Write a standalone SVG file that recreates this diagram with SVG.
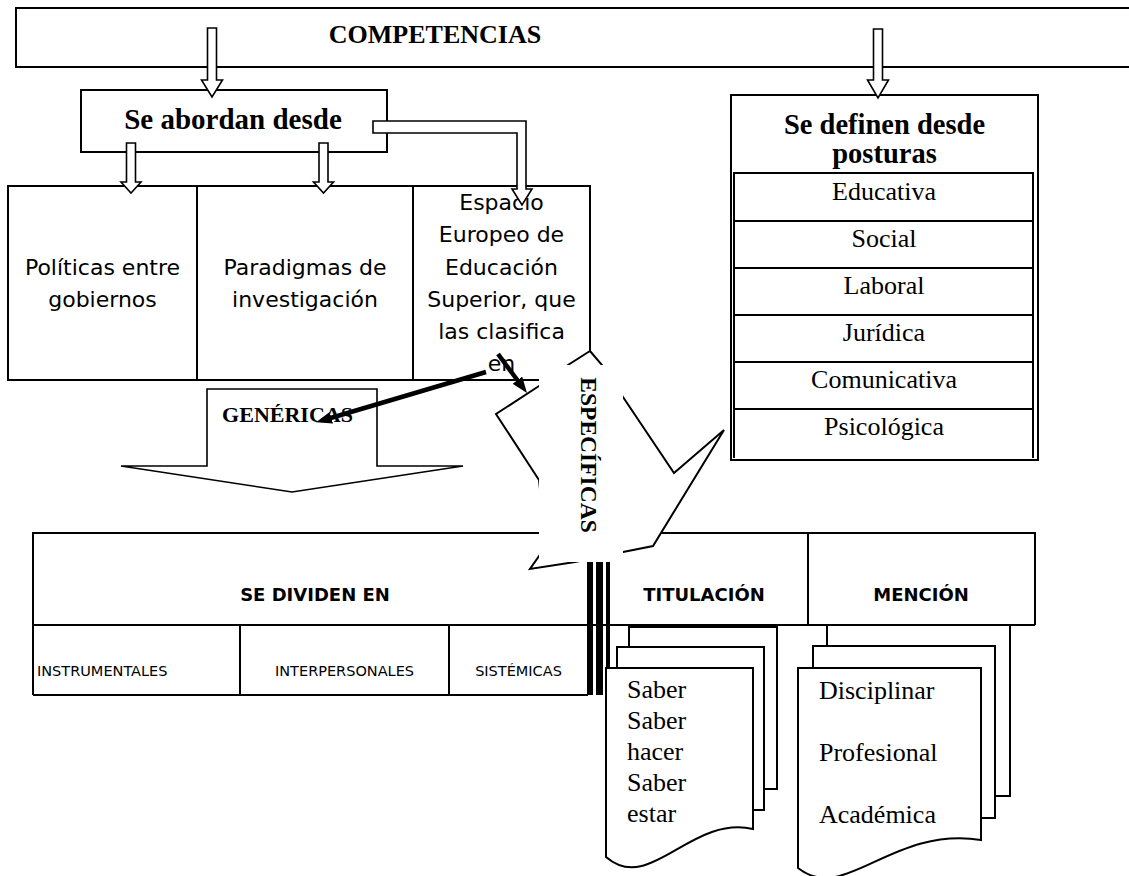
<svg xmlns="http://www.w3.org/2000/svg" width="1129" height="876" viewBox="0 0 1129 876">
<defs>
<style>
.box{fill:#fff;stroke:#000;stroke-width:2}
.ln{fill:none;stroke:#000;stroke-width:2}
.ha{fill:#fff;stroke:#000;stroke-width:1.6;stroke-linejoin:miter}
.tb{font-family:"Liberation Serif","Times New Roman",serif;font-weight:bold;fill:#000}
.t{font-family:"Liberation Serif","Times New Roman",serif;fill:#000}
.g{font-family:"DejaVu Sans",sans-serif;fill:#000}
.gb{font-family:"DejaVu Sans",sans-serif;font-weight:bold;fill:#000}
.thick{fill:none;stroke:#000;stroke-width:4.5}
.bar{fill:#000}
</style>
<marker id="ah" markerUnits="userSpaceOnUse" markerWidth="16" markerHeight="12" viewBox="0 0 16 12" refX="6" refY="6" orient="auto"><path d="M0,0 L16,6 L0,12 Z" fill="#000"/></marker>
</defs>
<rect width="1129" height="876" fill="#fff"/>

<g id="competencias">
<rect class="box" x="16" y="8" width="1130" height="59"/>
<text class="tb" x="435" y="43" font-size="26" text-anchor="middle">COMPETENCIAS</text>
</g>

<g id="se-abordan">
<rect class="box" x="81" y="90" width="306" height="62"/>
<text class="tb" x="233" y="129" font-size="29" text-anchor="middle">Se abordan desde</text>
</g>

<g id="se-definen">
<rect class="box" x="731" y="95" width="307" height="365"/>
<text class="tb" x="884.5" y="134" font-size="28.5" text-anchor="middle">Se definen desde</text>
<text class="tb" x="884.5" y="163" font-size="28.5" text-anchor="middle">posturas</text>
<path class="ln" d="M734,458 V173 H1033 V458 M734,221 H1033 M734,268 H1033 M734,315 H1033 M734,362 H1033 M734,409 H1033"/>
<g class="t" font-size="26" text-anchor="middle">
<text x="884" y="200">Educativa</text>
<text x="884" y="247">Social</text>
<text x="884" y="294">Laboral</text>
<text x="884" y="341">Jurídica</text>
<text x="884" y="388">Comunicativa</text>
<text x="884" y="435">Psicológica</text>
</g>
</g>

<g id="abordajes">
<rect class="box" x="8" y="186" width="582" height="194"/>
<path class="ln" d="M197,186 V380 M413,186 V380"/>
<g class="g" font-size="22" text-anchor="middle">
<text x="102.5" y="275">Políticas entre</text>
<text x="102.5" y="307">gobiernos</text>
<text x="305" y="275">Paradigmas de</text>
<text x="305" y="307">investigación</text>
<text x="501.5" y="210">Espacio</text>
<text x="501.5" y="242">Europeo de</text>
<text x="501.5" y="274.5">Educación</text>
<text x="501.5" y="306.5">Superior, que</text>
<text x="501.5" y="339">las clasifica</text>
<text x="501.5" y="371">en</text>
</g>
</g>

<g id="genericas">
<polygon class="ha" points="207,389 377,389 377,466 463,466 292,492 121,466 207,466"/>
<text class="tb" x="287.5" y="422" font-size="22" text-anchor="middle">GENÉRICAS</text>
</g>

<g id="tabla">
<path class="ln" d="M33,695 V533 H1035 V625 M33,625 H1035 M33,695 H588 M240,625 V695 M449,625 V695 M808,533 V625"/>
<rect class="bar" x="587" y="533" width="6" height="162"/>
<rect class="bar" x="596" y="533" width="7" height="162"/>
<rect class="bar" x="606" y="533" width="4" height="162"/>
<text class="gb" x="315" y="601" font-size="18" text-anchor="middle">SE DIVIDEN EN</text>
<text class="gb" x="704" y="601" font-size="18" text-anchor="middle">TITULACIÓN</text>
<text class="gb" x="921" y="601" font-size="18" text-anchor="middle">MENCIÓN</text>
<g class="g" font-size="14.5">
<text x="37" y="676">INSTRUMENTALES</text>
<text x="344.5" y="676" text-anchor="middle">INTERPERSONALES</text>
<text x="518.5" y="676" text-anchor="middle">SISTÉMICAS</text>
</g>
</g>

<g id="especificas">
<polygon class="box" points="590,351 602,365 623,397 674,473 724,430 653,546 623,552 575,562 530,569 546,546 539,480 496,414 539,386 568,365"/>
<rect x="539" y="365" width="84" height="197" fill="#fff"/>
<text class="tb" font-size="23.5" text-anchor="middle" transform="translate(581,455) rotate(90)">ESPECÍFICAS</text>
</g>

<g id="doc-titulacion">
<path class="box" d="M629,647 V627 H777 V789 H764"/>
<path class="box" d="M617,668 V647 H764 V810 H753"/>
<path class="box" d="M606,668 H753 V829 C690,815 650,895 606,857 Z"/>
<g class="t" font-size="26">
<text x="627" y="698">Saber</text>
<text x="627" y="729">Saber</text>
<text x="627" y="760">hacer</text>
<text x="627" y="791">Saber</text>
<text x="627" y="822">estar</text>
</g>
</g>

<g id="doc-mencion">
<path class="box" d="M827,646 V625 H1010 V796 H995"/>
<path class="box" d="M813,668 V646 H995 V818 H981"/>
<path class="box" d="M798,668 H981 V840 C890,826 845,905 798,868 Z"/>
<g class="t" font-size="26">
<text x="819" y="699">Disciplinar</text>
<text x="819" y="761">Profesional</text>
<text x="819" y="823">Académica</text>
</g>
</g>

<g id="connectors">
<polygon class="ha" points="207.5,28 216.5,28 216.5,80 222.5,80 212,97 201.5,80 207.5,80"/>
<polygon class="ha" points="873.5,29 882.5,29 882.5,80 888.5,80 878,98 867.5,80 873.5,80"/>
<polygon class="ha" points="126.5,143 135.5,143 135.5,182 141,182 131,193 121,182 126.5,182"/>
<polygon class="ha" points="319,143 328,143 328,182 333.5,182 323.5,193 313.5,182 319,182"/>
<polygon class="ha" points="373,121 526,121 526,189 532,189 522,205 512,189 517,189 517,133 373,133"/>
<line class="thick" x1="486" y1="372" x2="325.6" y2="419.5" marker-end="url(#ah)"/>
<line class="thick" x1="498" y1="354" x2="521" y2="385" marker-end="url(#ah)"/>
</g>
</svg>
